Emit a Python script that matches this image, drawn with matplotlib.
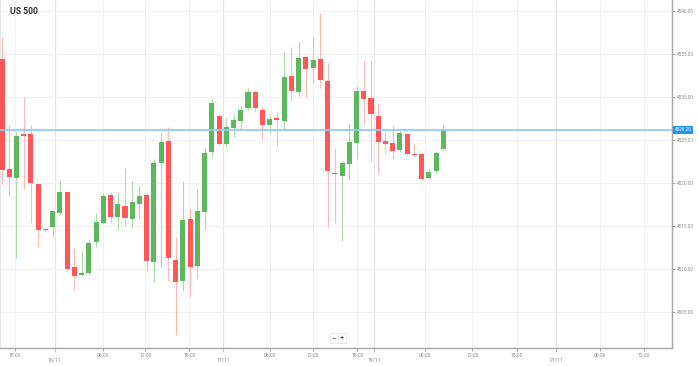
import numpy as np
import matplotlib
matplotlib.use("Agg")
import matplotlib.pyplot as plt

# hourly candles, US 500
opens = [4534.42, 4521.63, 4520.65, 4525.70, 4525.70, 4519.92, 4514.57, 4514.92, 4516.51, 4518.95,
         4510.23, 4509.37, 4509.60, 4513.14, 4515.35, 4518.64, 4516.12, 4517.40, 4515.85, 4517.63,
         4518.64, 4510.88, 4522.40, 4524.88, 4511.12, 4508.64, 4515.88, 4510.38, 4516.66, 4523.64,
         4527.79, 4524.57, 4526.47, 4527.28, 4528.79, 4530.58, 4528.56, 4526.78, 4527.56, 4527.28,
         4532.44, 4530.65, 4534.69, 4533.37, 4534.42, 4531.93, 4521.23, 4520.88, 4522.21, 4524.65,
         4530.73, 4529.95, 4527.83, 4524.88, 4524.65, 4523.87, 4525.70, 4523.41, 4523.44, 4520.62,
         4521.47, 4524.02]
highs = [4537.05, 4526.78, 4526.00, 4530.07, 4526.78, 4520.00, 4514.65, 4516.80, 4520.27, 4519.00,
         4512.51, 4512.24, 4513.49, 4516.51, 4518.84, 4518.95, 4518.95, 4521.74, 4520.27, 4519.80,
         4518.91, 4522.79, 4525.81, 4526.51, 4513.79, 4520.27, 4517.01, 4519.30, 4524.26, 4529.80,
         4528.06, 4527.56, 4528.06, 4528.99, 4531.05, 4530.85, 4528.84, 4527.83, 4528.26, 4535.30,
         4535.81, 4536.58, 4534.75, 4537.05, 4539.84, 4534.02, 4524.07, 4522.59, 4527.05, 4531.31,
         4534.34, 4534.34, 4529.30, 4526.00, 4526.78, 4526.20, 4525.75, 4524.57, 4523.50, 4521.66,
         4523.67, 4526.78]
lows = [4519.92, 4518.56, 4511.35, 4519.34, 4515.35, 4512.56, 4514.50, 4513.79, 4516.31, 4509.84,
        4507.59, 4509.22, 4509.34, 4512.56, 4515.30, 4515.42, 4514.57, 4515.07, 4514.77, 4515.81,
        4509.84, 4508.56, 4510.30, 4508.67, 4502.36, 4507.51, 4506.81, 4508.84, 4514.57, 4523.09,
        4524.50, 4524.26, 4525.35, 4526.28, 4528.52, 4528.33, 4525.12, 4525.81, 4524.34, 4526.08,
        4529.60, 4530.15, 4530.07, 4531.63, 4531.05, 4514.77, 4515.35, 4513.33, 4520.38, 4522.79,
        4526.90, 4522.59, 4521.08, 4523.37, 4522.79, 4523.64, 4523.29, 4523.20, 4520.45, 4520.55,
        4521.08, 4523.87]
closes = [4521.55, 4520.77, 4525.53, 4525.53, 4520.07, 4514.57, 4514.57, 4516.78, 4519.02, 4510.00,
          4509.22, 4509.53, 4513.02, 4515.50, 4518.52, 4516.05, 4517.56, 4516.00, 4517.79, 4518.52,
          4511.00, 4522.33, 4524.77, 4511.28, 4508.49, 4515.73, 4510.23, 4516.78, 4523.49, 4529.30,
          4524.53, 4526.55, 4527.33, 4528.52, 4530.58, 4528.79, 4526.74, 4527.51, 4527.36, 4532.33,
          4530.77, 4534.57, 4533.26, 4534.30, 4532.01, 4521.47, 4521.08, 4522.33, 4524.80, 4530.77,
          4529.80, 4528.02, 4524.77, 4524.53, 4523.79, 4525.81, 4523.41, 4523.26, 4520.50, 4521.28,
          4523.56, 4526.20]

time_ticks = [1.8, 14.0, 19.8, 25.9, 37.0, 43.0, 49.1, 58.5, 65.0, 71.2, 82.7, 88.7]
time_labels = ["18:00", "06:00", "12:00", "18:00", "06:00", "12:00", "18:00", "06:00", "12:00", "18:00", "06:00", "12:00"]
date_ticks = [7.3, 30.55, 51.4, 76.6]
date_labels = ["16/11", "17/11", "19/11", "21/11"]
price_ticks = [4505, 4510, 4515, 4520, 4525, 4530, 4535, 4540]

GREEN = "#5cb85c"
RED = "#ff5757"
GREEN_WICK = "#a9dba9"
RED_WICK = "#ffb8b8"

plt.rcParams["font.family"] = ["Roboto", "DejaVu Sans"]

fig = plt.figure(figsize=(6.99, 3.66), dpi=100)
ax = fig.add_axes([0, 18 / 366, 672 / 699, 348 / 366])

o = np.array(opens)
h = np.array(highs)
l = np.array(lows)
c = np.array(closes)
x = np.arange(len(o))

body_col = np.where(c > o, GREEN, np.where(c < o, RED, "#8a8a8a"))
wick_col = np.where(c > o, GREEN_WICK, np.where(c < o, RED_WICK, "#b0b0b0"))

ax.vlines(x, l, h, colors=wick_col, linewidth=0.8, zorder=2)
bottoms = np.minimum(o, c)
heights = np.maximum(np.abs(c - o), 0.13)
ax.bar(x, heights, bottom=bottoms, width=0.7, color=body_col, linewidth=0, zorder=3)

# last price line + label
last = closes[-1]
ax.axhline(last, color="#90cbf9", linewidth=1.3, zorder=4)
ax.text(1.004, last, "%.2f" % last, transform=ax.get_yaxis_transform(), fontsize=3.3,
        color="white", va="center", ha="left", clip_on=False, zorder=6,
        bbox=dict(boxstyle="square,pad=0.35", fc="#2196f3", ec="none"))

ax.set_xlim(-0.28, 92.6)
ax.set_ylim(4500.85, 4541.31)

ax.yaxis.tick_right()
ax.set_yticks(price_ticks)
ax.set_yticklabels(["%.2f" % p for p in price_ticks])
ax.tick_params(axis="y", labelsize=3.4, labelcolor="#8c8c8c", color="#9a9a9a", length=2, width=0.6, pad=1.5)

ax.set_xticks(time_ticks)
ax.set_xticklabels(time_labels)
ax.set_xticks(date_ticks, minor=True)
ax.set_xticklabels(date_labels, minor=True)
ax.tick_params(axis="x", which="major", labelsize=3.6, labelcolor="#8c8c8c", color="#9a9a9a", length=2.5, width=0.6, pad=1.2)
ax.tick_params(axis="x", which="minor", labelsize=3.6, labelcolor="#8c8c8c", color="#b5b5b5", length=3, width=0.6, pad=4)

ax.grid(True, which="major", color="#f1f1f1", linewidth=0.8, zorder=0)
ax.grid(True, which="minor", axis="x", color="#e3e3e3", linewidth=0.9, zorder=0)
ax.set_axisbelow(True)

ax.spines["top"].set_visible(False)
ax.spines["left"].set_color("#e6e6e6")
ax.spines["right"].set_color("#a8a8a8")
ax.spines["bottom"].set_color("#a8a8a8")
ax.spines["right"].set_linewidth(1.0)
ax.spines["bottom"].set_linewidth(1.0)

fig.text(10 / 699, 1 - 11 / 366, "US 500", fontsize=6.2, fontweight="bold", color="#333333", va="center", ha="left")

# zoom buttons
fig.text(334 / 699, 1 - 338 / 366, "\u2212", fontsize=5.5, color="#444444", ha="center", va="center",
         bbox=dict(boxstyle="square,pad=0.3", fc="white", ec="#e0e0e0", lw=0.5))
fig.text(342 / 699, 1 - 338 / 366, "+", fontsize=5.5, color="#444444", ha="center", va="center",
         bbox=dict(boxstyle="square,pad=0.3", fc="white", ec="#e0e0e0", lw=0.5))

fig.savefig("out.png", dpi=100)
